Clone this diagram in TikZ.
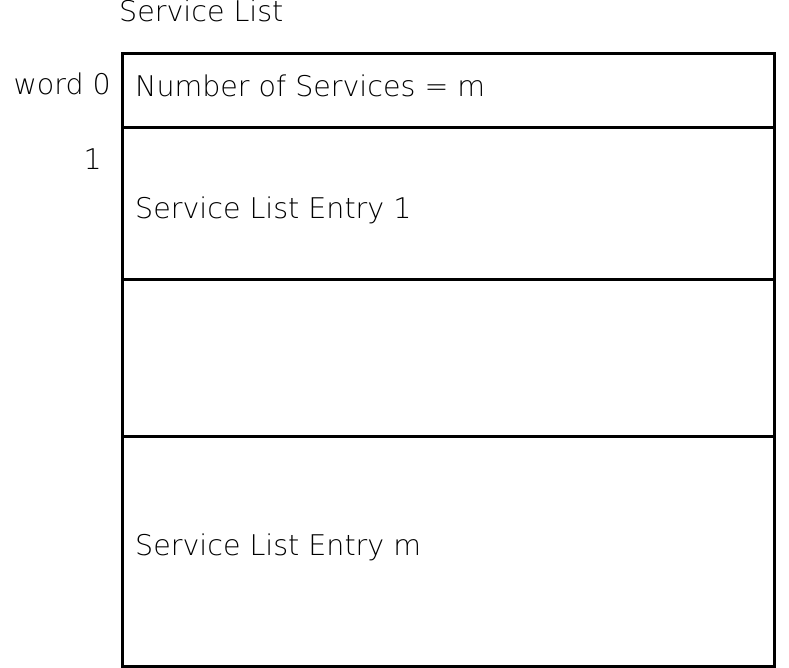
\documentclass[tikz,border=0pt]{standalone}
\usepackage{fontspec}
\setmainfont{DejaVu Sans ExtraLight}
\usetikzlibrary{positioning}

\begin{document}
\begin{tikzpicture}[x=1pt,y=-1pt,
  lbl/.style={font=\fontsize{28.5}{30}\selectfont, inner sep=0pt},
  field/.style={line width=3pt}]
\useasboundingbox (0,0) rectangle (789,668);

% the record
\draw[field] (122,54) rectangle (774,666);
\foreach \y in {128, 279, 436}
  \draw[field] (122,\y) -- (774,\y);

% texts
\node[lbl, anchor=base west] (title) at (119,22) {Service List};
\node[lbl, anchor=base east] (word0) at (111,95) {word 0};
\node[lbl, anchor=base east] (word1) at (102,170) {1};
\node[lbl, anchor=base west] (count) at (135,97) {Number of Services = m};
\node[lbl, anchor=base west] (entry1) at (135,219) {Service List Entry 1};
\node[lbl, anchor=base west] (entrym) at (135,555) {Service List Entry m};

\end{tikzpicture}
\end{document}
